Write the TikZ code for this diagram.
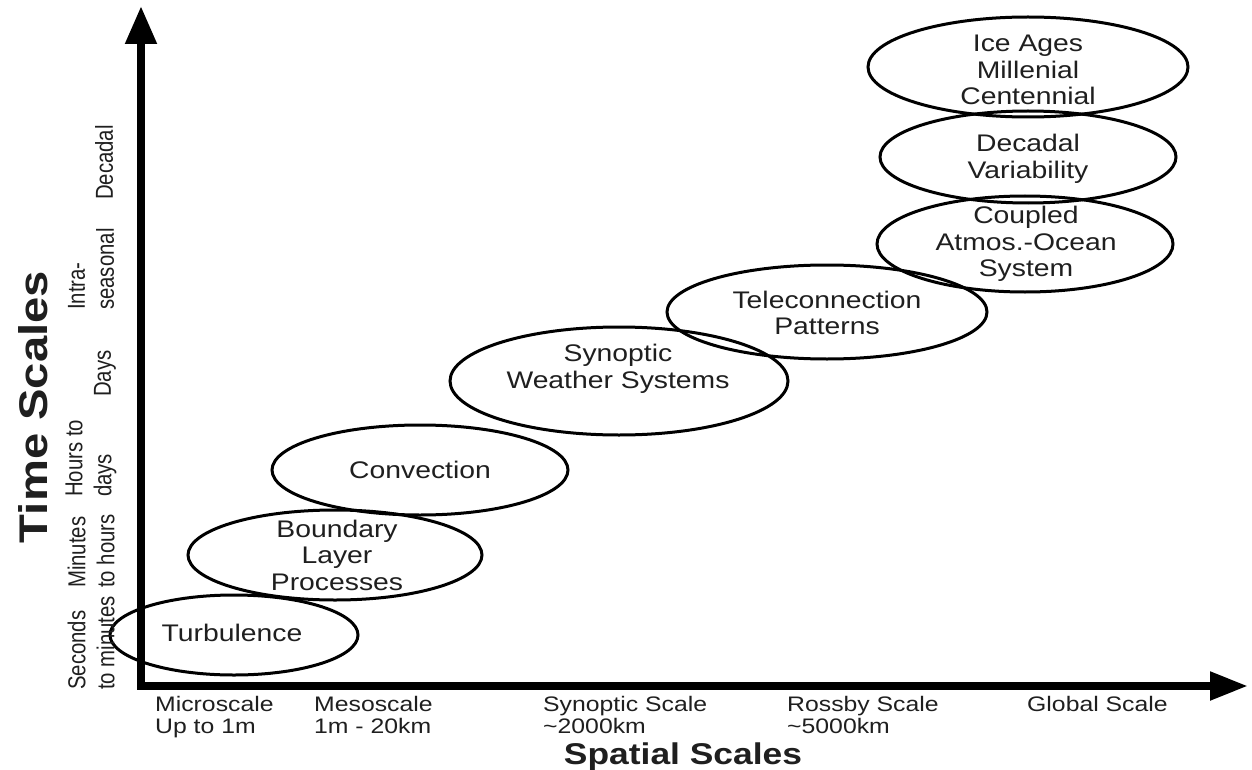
\documentclass[tikz,border=0pt]{standalone}
\usepackage{fontspec}
\setmainfont{Liberation Sans}
\newfontfamily\widef[FakeStretch=1.18]{Liberation Sans}
\newfontfamily\narrf[FakeStretch=0.83]{Liberation Sans}
\usetikzlibrary{arrows.meta,shapes.geometric}
\definecolor{txt}{gray}{0.12}
\begin{document}
\begin{tikzpicture}[x=1pt,y=-1pt,
  bubble/.style={draw=black, line width=3pt, ellipse, inner sep=0pt},
  etext/.style={text=txt, align=center, inner sep=0pt, font=\widef\fontsize{24}{26.5}\selectfont},
  xlab/.style={text=txt, align=left, anchor=north west, inner sep=0pt, font=\widef\fontsize{21}{22}\selectfont},
  ylab/.style={text=txt, align=left, rotate=90, anchor=west, inner sep=0pt, font=\narrf\fontsize{24.5}{29}\selectfont},
  axisline/.style={line width=8pt, line join=miter, draw=black}]
\fill[white] (0,0) rectangle (1252,770);
\useasboundingbox (0,0) rectangle (1252,770);

% ellipses
\node[bubble, minimum width=248pt, minimum height=80pt] (e1) at (234,635) {};
\node[bubble, minimum width=294pt, minimum height=90pt] (e2) at (335,555) {};
\node[bubble, minimum width=296pt, minimum height=90pt] (e3) at (420,470) {};
\node[bubble, minimum width=338pt, minimum height=108pt] (e4) at (619,381) {};
\node[bubble, minimum width=320pt, minimum height=94pt] (e5) at (827,312) {};
\node[bubble, minimum width=296pt, minimum height=96pt] (e6) at (1025,244) {};
\node[bubble, minimum width=296pt, minimum height=92pt] (e7) at (1028,157) {};
\node[bubble, minimum width=320pt, minimum height=100pt] (e8) at (1028,67) {};

\node[etext] (t1) at (232,633) {Turbulence};
\node[etext] (t2) at (337,555) {Boundary\\Layer\\Processes};
\node[etext] (t3) at (420,470) {Convection};
\node[etext] (t4) at (618,369) {Synoptic\\Weather Systems};
\node[etext] (t5) at (827,313) {Teleconnection\\Patterns};
\node[etext] (t6) at (1026,244) {Coupled\\Atmos.-Ocean\\System};
\node[etext] (t7) at (1028,159) {Decadal\\Variability};
\node[etext] (t8) at (1028,70) {Ice Ages\\Millenial\\Centennial};

% axes
\coordinate (O) at (141,686);
\coordinate (ytop) at (141,6);
\coordinate (xend) at (1248,686);
\draw[axisline, {Triangle[width=30pt,length=38pt]}-{Triangle[width=27pt,length=38pt]}] (ytop) -- (O) -- (xend);

% x labels
\node[xlab] (x1) at (155,696) {Microscale\\Up to 1m};
\node[xlab] (x2) at (314,696) {Mesoscale\\1m - 20km};
\node[xlab] (x3) at (543,696) {Synoptic Scale\\\textasciitilde2000km};
\node[xlab] (x4) at (787,696) {Rossby Scale\\\textasciitilde5000km};
\node[xlab] (x5) at (1027,696) {Global Scale};
\node[text=txt, anchor=base, inner sep=0pt, font=\widef\bfseries\fontsize{30}{30}\selectfont] (xt) at (683,764) {Spatial Scales};

% y labels
\node[ylab] (y1) at (104,200) {Decadal};
\node[ylab] (y2) at (91,310) {Intra-\\seasonal};
\node[ylab] (y3) at (105,397) {Days};
\node[ylab] (y4) at (91,497) {Hours to\\days};
\node[ylab] (y5) at (91,588) {Minutes\\to hours};
\node[ylab] (y6) at (91,690) {Seconds\\to minutes};
\node[text=txt, rotate=90, inner sep=0pt, font=\widef\bfseries\fontsize{40}{40}\selectfont] (yt) at (33,407) {Time Scales};
\end{tikzpicture}
\end{document}
